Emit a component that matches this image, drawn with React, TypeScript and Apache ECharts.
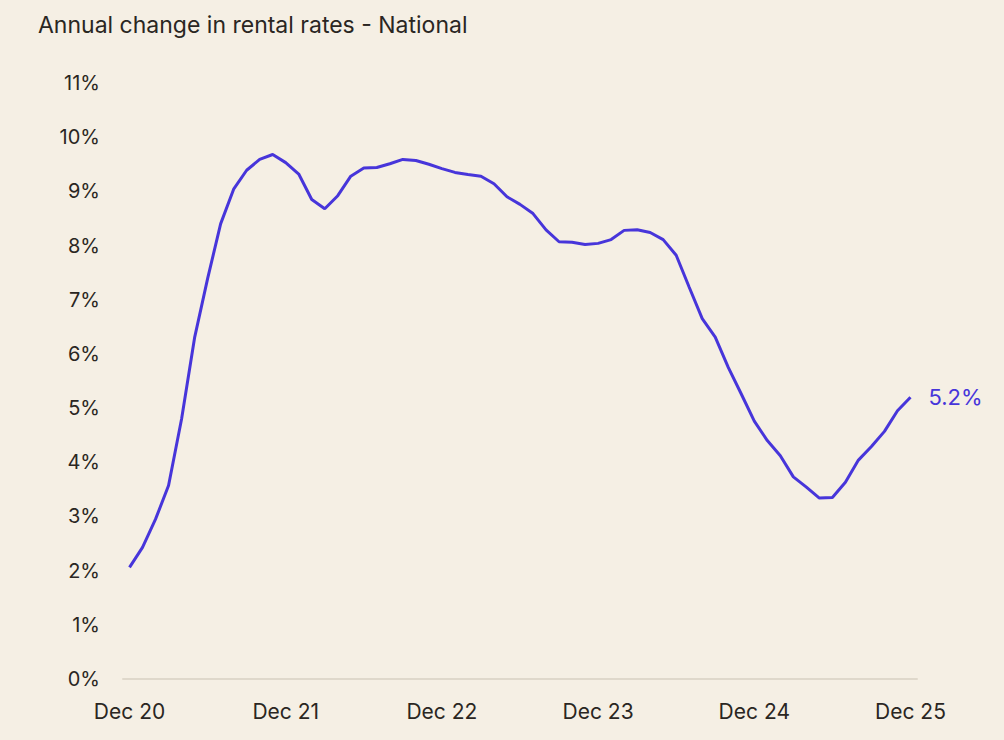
import React, { useEffect, useRef } from "react";
import * as echarts from "echarts";

const MONTHS = ["Dec", "Jan", "Feb", "Mar", "Apr", "May", "Jun", "Jul", "Aug", "Sep", "Oct", "Nov"];
const START_YEAR = 20;
const categories: string[] = [];
for (let i = 0; i < 61; i++) {
  const m = MONTHS[i % 12];
  const y = START_YEAR + Math.ceil(i / 12);
  categories.push(`${m} ${i % 12 === 0 ? START_YEAR + i / 12 : y}`);
}

const annualChange = [
  2.06, 2.43, 2.95, 3.57, 4.8, 6.3, 7.39, 8.4, 9.04, 9.39, 9.59, 9.68,
  9.53, 9.32, 8.85, 8.68, 8.92, 9.28, 9.43, 9.44, 9.51, 9.59, 9.57, 9.5,
  9.42, 9.35, 9.31, 9.28, 9.14, 8.9, 8.76, 8.59, 8.29, 8.07, 8.06, 8.02,
  8.04, 8.11, 8.28, 8.29, 8.24, 8.11, 7.82, 7.23, 6.65, 6.31, 5.75, 5.26,
  4.76, 4.4, 4.12, 3.73, 3.54, 3.34, 3.35, 3.63, 4.04, 4.29, 4.57, 4.95,
  5.2,
];

const TITLE = "Annual change in rental rates - National";
const END_LABEL = "5.2%";

const BG = "#F5EFE4";
const LINE = "#4735DA";
const TEXT = "#2A2622";
const FONT = "Inter, 'Noto Sans', sans-serif";

export default function App() {
  const ref = useRef<HTMLDivElement>(null);
  useEffect(() => {
    document.body.style.margin = "0";
    const chart = echarts.init(ref.current!, null, { renderer: "svg" });
    chart.setOption({
      animation: false,
      backgroundColor: BG,
      title: {
        text: TITLE,
        left: 33,
        top: 8,
        textStyle: { fontFamily: FONT, fontSize: 23, fontWeight: "normal", color: TEXT },
      },
      grid: { left: 123, right: 87, top: 83, bottom: 61 },
      xAxis: {
        type: "category",
        data: categories,
        boundaryGap: true,
        axisLine: { show: true, lineStyle: { color: "#DFD8CB", width: 2 } },
        axisTick: { show: false },
        axisLabel: {
          interval: (idx: number) => idx % 12 === 0,
          margin: 22,
          fontFamily: FONT,
          fontSize: 21,
          color: TEXT,
        },
        splitLine: { show: false },
      },
      yAxis: {
        type: "value",
        min: 0,
        max: 11,
        interval: 1,
        axisLine: { show: false },
        axisTick: { show: false },
        splitLine: { show: false },
        axisLabel: {
          formatter: "{value}%",
          margin: 23,
          fontFamily: FONT,
          fontSize: 20,
          color: TEXT,
        },
      },
      series: [
        {
          type: "line",
          data: annualChange,
          symbol: "none",
          lineStyle: { color: LINE, width: 3 },
          endLabel: {
            show: true,
            formatter: END_LABEL,
            distance: 18,
            fontFamily: FONT,
            fontSize: 22,
            color: LINE,
          },
        },
      ],
    });
    return () => chart.dispose();
  }, []);
  return <div ref={ref} style={{ width: 1004, height: 740 }} />;
}
